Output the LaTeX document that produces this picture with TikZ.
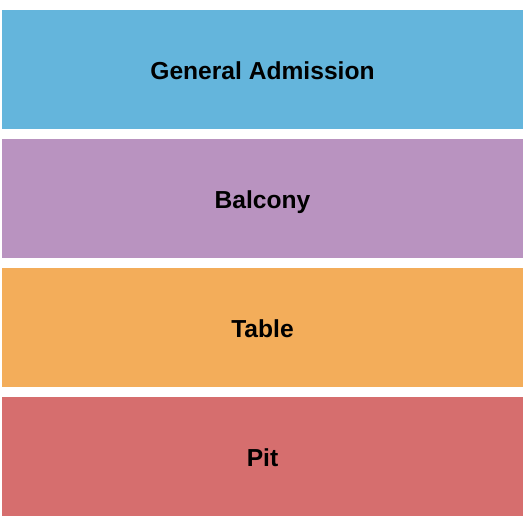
\documentclass[tikz,border=0pt]{standalone}
\usepackage{fontspec}
\setmainfont{Liberation Sans}
\usepackage{tikz}
\usetikzlibrary{positioning}
\usepackage{xcolor}
\definecolor{smblue}{RGB}{100,181,220}
\definecolor{smpurple}{RGB}{185,147,192}
\definecolor{smorange}{RGB}{243,173,90}
\definecolor{smred}{RGB}{214,110,110}
\tikzstyle{section} = [rectangle, minimum width=521pt, minimum height=118.5pt, inner sep=0pt, text centered, text height=20pt, text depth=0pt, font=\fontsize{24.6}{27}\selectfont\bfseries, text=black]

\begin{document}
\begin{tikzpicture}[node distance=129pt]
\useasboundingbox (0,0) rectangle (525pt,-525pt);
% Sections
\node (ga) [section, fill=smblue] at (262.5pt,-69.25pt) {General Admission};
\node (balcony) [section, fill=smpurple, below of=ga] {Balcony};
\node (table) [section, fill=smorange, below of=balcony] {Table};
\node (pit) [section, fill=smred, below of=table] {Pit};
\end{tikzpicture}
\end{document}
